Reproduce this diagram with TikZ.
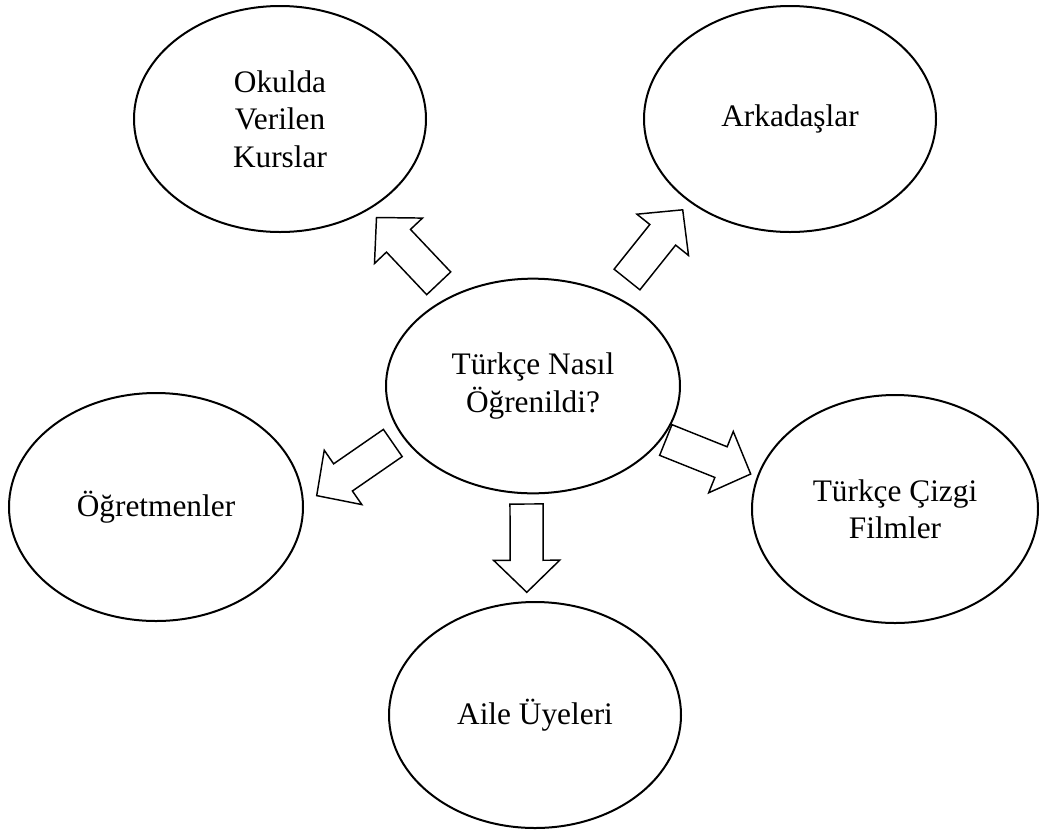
\documentclass[tikz,border=0pt]{standalone}
\usepackage{fontspec}
\setmainfont{Liberation Serif}
\usetikzlibrary{shapes.geometric,calc}

\begin{document}
\begin{tikzpicture}[x=0.75pt,y=-0.75pt,line width=1.5pt,
	font=\fontsize{23.5}{28}\selectfont]
	\tikzstyle{balon}=[ellipse,draw,fill=white,align=center,inner sep=0pt,
		minimum width=219pt,minimum height=169.5pt]
	% hollow block arrow from shaft end to tip
	\tikzstyle{blok}=[draw,fill=white,line width=1.1pt,
		to path={($(\tikztostart)!12.4pt!-90:(\tikztotarget)$)
			-- ($(\tikztotarget)!27pt!27.3:(\tikztostart)$)
			-- ($(\tikztotarget)!34.5pt!45.9:(\tikztostart)$)
			-- (\tikztotarget)
			-- ($(\tikztotarget)!34.5pt!-45.9:(\tikztostart)$)
			-- ($(\tikztotarget)!27pt!-27.3:(\tikztostart)$)
			-- ($(\tikztostart)!12.4pt!90:(\tikztotarget)$) -- cycle}]
	\useasboundingbox (0,0) rectangle (1039,829);

	\node[balon]                (okul)   at (280,119) {Okulda\\Verilen\\Kurslar};
	\node[balon]                (arkadas) at (790,119) {Arkadaşlar};
	\node[balon,minimum width=220.5pt,minimum height=161pt]
	                            (soru)   at (533,386) {Türkçe Nasıl\\Öğrenildi?};
	\node[balon,minimum width=220.5pt,minimum height=171pt]
	                            (ogretmen) at (156,507) {Öğretmenler};
	\node[balon,minimum width=214.5pt,minimum height=171pt]
	                            (cizgi)  at (895,509) {Türkçe Çizgi\\Filmler};
	\node[balon]                (aile)   at (535,715) {Aile Üyeleri};

	\coordinate (s1) at (438.7,283.3); \coordinate (t1) at (376.5,217.5);
	\coordinate (s2) at (627,279.5);   \coordinate (t2) at (682.7,209.8);
	\coordinate (s3) at (392.8,443);   \coordinate (t3) at (316.7,495.6);
	\coordinate (s4) at (665.8,440);   \coordinate (t4) at (750.7,474);
	\coordinate (s5) at (526.5,504);   \coordinate (t5) at (526.8,592.3);

	\path
	(s1) edge[blok] (t1)
	(s2) edge[blok] (t2)
	(s3) edge[blok] (t3)
	(s4) edge[blok] (t4)
	(s5) edge[blok] (t5);

\end{tikzpicture}
\end{document}
